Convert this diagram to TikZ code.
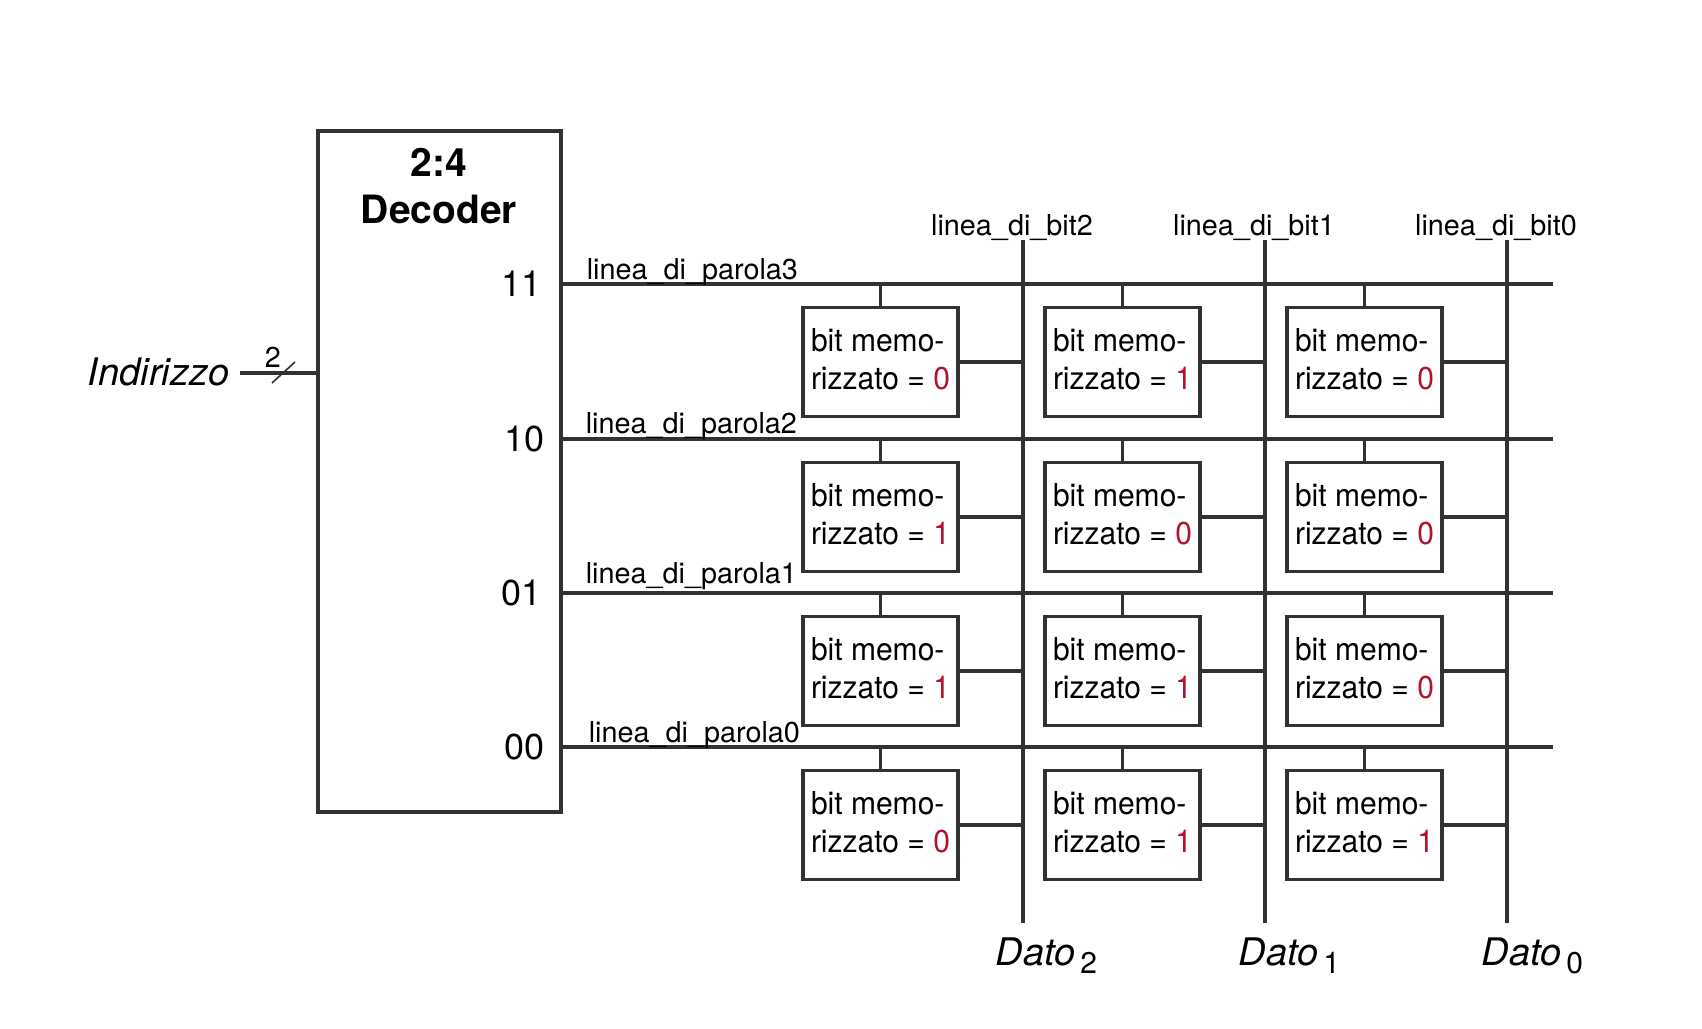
\documentclass[tikz,border=0pt]{standalone}
\usepackage{fontspec}
\setmainfont{TeX Gyre Heros}
\newfontfamily\cellfont[FakeStretch=0.95]{TeX Gyre Heros}
\usetikzlibrary{calc}
\definecolor{valred}{RGB}{178,18,42}
\definecolor{wiregray}{RGB}{50,50,50}
\tikzset{every picture/.style={line width=0.75pt}}
\tikzset{
  wire/.style={draw=wiregray, line width=1.6pt},
  cell/.style={draw=wiregray, line width=1.6pt, fill=white, minimum width=77.5pt, minimum height=54.5pt, inner sep=0pt, align=left, font=\cellfont\fontsize{15.8}{19}\selectfont},
  lbl/.style={inner sep=0pt, font=\fontsize{14.4}{14.4}\selectfont},
  num/.style={inner sep=0pt, anchor=base east, font=\fontsize{18}{18}\selectfont},
  dato/.style={inner sep=0pt, anchor=base west, font=\itshape\fontsize{19}{19}\selectfont}
}
\newcommand{\datosub}[1]{\hspace{2.5pt}\raisebox{-4pt}{\upshape\fontsize{15}{15}\selectfont #1}}
\newcommand{\cellval}[1]{bit memo-\\rizzato = \textcolor{valred}{#1}\rule[-3.3pt]{0pt}{3.3pt}}

\begin{document}
\begin{tikzpicture}[x=0.5pt,y=0.5pt,yscale=-1,xscale=1]
    \useasboundingbox (0,0) rectangle (1702,1028);

    %Shape: Decoder
    \node [wire, minimum width=121.5pt, minimum height=340.5pt, inner sep=0pt] (dec) at (439.5,471.5) {};
    \node [anchor=north, inner sep=0pt, align=center, font=\bfseries\fontsize{19.5}{23.5}\selectfont] (dectitle) at (439,148) {2:4\\Decoder};

    %Indirizzo input
    \coordinate (addr) at (240,373);
    \draw [wire] (addr) -- (addr -| dec.west);
    \draw [wiregray, line width=0.8pt] (272,383) -- (295,362);
    \node [lbl, anchor=base] (addrwidth) at (273,367) {2};
    \node [inner sep=0pt, anchor=base west, font=\itshape\fontsize{19}{19}\selectfont] (addrlabel) at (87,385) {Indirizzo};

    %Word lines
    \coordinate (wl3) at (1553,284);
    \coordinate (wl2) at (1553,439);
    \coordinate (wl1) at (1553,593);
    \coordinate (wl0) at (1553,747);
    \draw [wire] (dec.east |- wl3) -- (wl3);
    \draw [wire] (dec.east |- wl2) -- (wl2);
    \draw [wire] (dec.east |- wl1) -- (wl1);
    \draw [wire] (dec.east |- wl0) -- (wl0);

    %Bit lines
    \coordinate (bl2) at (1023,240);
    \coordinate (bl1) at (1265,240);
    \coordinate (bl0) at (1507,240);
    \coordinate (bl2b) at (1023,923);
    \coordinate (bl1b) at (1265,923);
    \coordinate (bl0b) at (1507,923);
    \draw [wire] (bl2) -- (bl2b);
    \draw [wire] (bl1) -- (bl1b);
    \draw [wire] (bl0) -- (bl0b);

    %Cells, row 3
    \node [cell] (c32) at (880.5,362) {\cellval{0}};
    \node [cell] (c31) at (1122.5,362) {\cellval{1}};
    \node [cell] (c30) at (1364.5,362) {\cellval{0}};
    %Cells, row 2
    \node [cell] (c22) at (880.5,517) {\cellval{1}};
    \node [cell] (c21) at (1122.5,517) {\cellval{0}};
    \node [cell] (c20) at (1364.5,517) {\cellval{0}};
    %Cells, row 1
    \node [cell] (c12) at (880.5,671) {\cellval{1}};
    \node [cell] (c11) at (1122.5,671) {\cellval{1}};
    \node [cell] (c10) at (1364.5,671) {\cellval{0}};
    %Cells, row 0
    \node [cell] (c02) at (880.5,825) {\cellval{0}};
    \node [cell] (c01) at (1122.5,825) {\cellval{1}};
    \node [cell] (c00) at (1364.5,825) {\cellval{1}};

    %Cells to word lines
    \draw [wire] (c32.north) -- (c32.north |- wl3);
    \draw [wire] (c31.north) -- (c31.north |- wl3);
    \draw [wire] (c30.north) -- (c30.north |- wl3);
    \draw [wire] (c22.north) -- (c22.north |- wl2);
    \draw [wire] (c21.north) -- (c21.north |- wl2);
    \draw [wire] (c20.north) -- (c20.north |- wl2);
    \draw [wire] (c12.north) -- (c12.north |- wl1);
    \draw [wire] (c11.north) -- (c11.north |- wl1);
    \draw [wire] (c10.north) -- (c10.north |- wl1);
    \draw [wire] (c02.north) -- (c02.north |- wl0);
    \draw [wire] (c01.north) -- (c01.north |- wl0);
    \draw [wire] (c00.north) -- (c00.north |- wl0);

    %Cells to bit lines
    \draw [wire] (c32.east) -- (c32.east -| bl2);
    \draw [wire] (c31.east) -- (c31.east -| bl1);
    \draw [wire] (c30.east) -- (c30.east -| bl0);
    \draw [wire] (c22.east) -- (c22.east -| bl2);
    \draw [wire] (c21.east) -- (c21.east -| bl1);
    \draw [wire] (c20.east) -- (c20.east -| bl0);
    \draw [wire] (c12.east) -- (c12.east -| bl2);
    \draw [wire] (c11.east) -- (c11.east -| bl1);
    \draw [wire] (c10.east) -- (c10.east -| bl0);
    \draw [wire] (c02.east) -- (c02.east -| bl2);
    \draw [wire] (c01.east) -- (c01.east -| bl1);
    \draw [wire] (c00.east) -- (c00.east -| bl0);

    % Text Node
    \node [num] (out3) at (542,296) {11};
    \node [num] (out2) at (545,451) {10};
    \node [num] (out1) at (542,605) {01};
    \node [num] (out0) at (545,759) {00};
    % Text Node
    \node [lbl, anchor=base west] (wlab3) at (586,279) {linea\_di\_parola3};
    \node [lbl, anchor=base west] (wlab2) at (585,433) {linea\_di\_parola2};
    \node [lbl, anchor=base west] (wlab1) at (585,583) {linea\_di\_parola1};
    \node [lbl, anchor=base west] (wlab0) at (588,742) {linea\_di\_parola0};
    % Text Node
    \node [lbl, anchor=base] (blab2) at (1012,235) {linea\_di\_bit2};
    \node [lbl, anchor=base] (blab1) at (1254,235) {linea\_di\_bit1};
    \node [lbl, anchor=base] (blab0) at (1496,235) {linea\_di\_bit0};
    % Text Node
    \node [dato] (dato2) at (995,965) {Dato\datosub{2}};
    \node [dato] (dato1) at (1238,965) {Dato\datosub{1}};
    \node [dato] (dato0) at (1481,965) {Dato\datosub{0}};

\end{tikzpicture}
\end{document}
